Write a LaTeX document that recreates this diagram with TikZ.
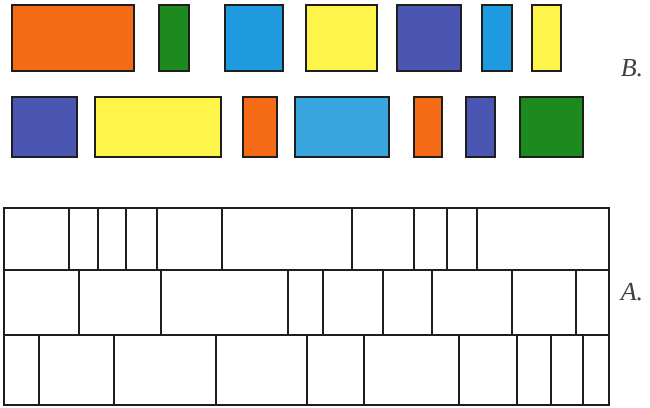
\documentclass[tikz,border=0pt]{standalone}
\usepackage{xcolor}
\usepackage{fontspec}
\usepackage{tikz}
\setmainfont{Liberation Serif}
\definecolor{tileorange}{HTML}{F56A14}
\definecolor{tilegreen}{HTML}{1C8A1F}
\definecolor{tileblue}{HTML}{1E9BDE}
\definecolor{tilesky}{HTML}{3AA6DF}
\definecolor{tileyellow}{HTML}{FFF54A}
\definecolor{tilepurple}{HTML}{4B56B2}
\definecolor{edge}{HTML}{1E1E1E}
\tikzset{
  tile/.style={draw=edge,line width=1.6pt,fill=#1},
  wall/.style={draw=edge,line width=1.4pt},
  tag/.style={font=\fontsize{26}{30}\selectfont\itshape,text=edge!85}
}

\begin{document}
\begin{tikzpicture}[x=1pt,y=-1pt]
  \useasboundingbox (0,0) rectangle (650,407);
  % B: coloured tiles, upper row
  \draw[tile=tileorange] (12,5) rectangle (134,71);
  \draw[tile=tilegreen] (159,5) rectangle (189,71);
  \draw[tile=tileblue] (225,5) rectangle (283,71);
  \draw[tile=tileyellow] (306,5) rectangle (377,71);
  \draw[tile=tilepurple] (397,5) rectangle (461,71);
  \draw[tile=tileblue] (482,5) rectangle (512,71);
  \draw[tile=tileyellow] (532,5) rectangle (561,71);
  % B: coloured tiles, lower row
  \draw[tile=tilepurple] (12,97) rectangle (77,157);
  \draw[tile=tileyellow] (95,97) rectangle (221,157);
  \draw[tile=tileorange] (243,97) rectangle (277,157);
  \draw[tile=tilesky] (295,97) rectangle (389,157);
  \draw[tile=tileorange] (414,97) rectangle (442,157);
  \draw[tile=tilepurple] (466,97) rectangle (495,157);
  \draw[tile=tilegreen] (520,97) rectangle (583,157);
  \node[tag] (blabel) at (632,68) {B.};
  % A: the wall of bricks
  \draw[wall] (4,208) rectangle (609,405);
  \draw[wall] (4,270) -- (609,270);
  \draw[wall] (4,335) -- (609,335);
  \foreach \x in {69,98,126,157,222,352,414,447,477}
    \draw[wall] (\x,208) -- (\x,270);
  \foreach \x in {79,161,288,323,383,432,512,576}
    \draw[wall] (\x,270) -- (\x,335);
  \foreach \x in {39,114,216,307,364,459,517,551,583}
    \draw[wall] (\x,335) -- (\x,405);
  \node[tag] (alabel) at (632,292) {A.};
\end{tikzpicture}
\end{document}
